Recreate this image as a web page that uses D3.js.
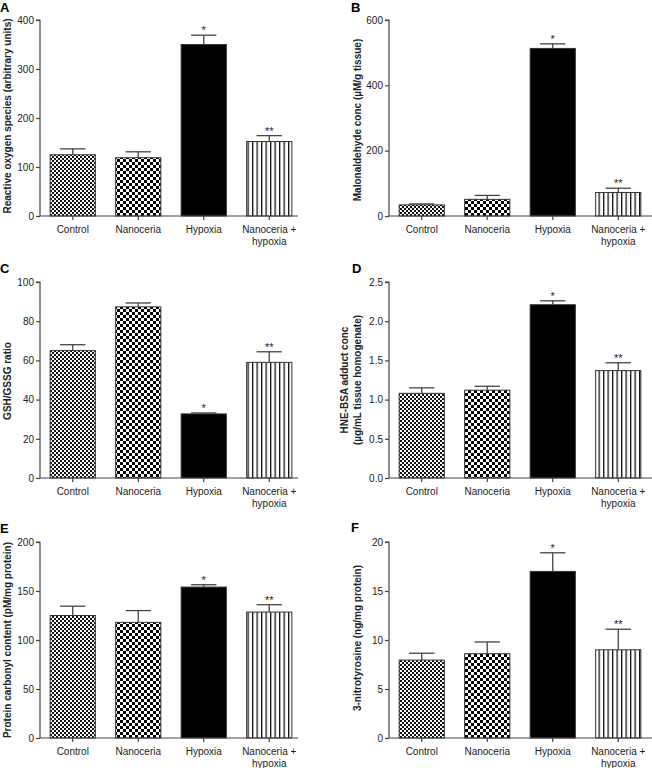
<!DOCTYPE html>
<html>
<head>
<meta charset="utf-8">
<script src="https://cdn.jsdelivr.net/npm/d3@7/dist/d3.min.js"></script>
<style>
  html, body { margin: 0; padding: 0; background: #fff; }
  svg { display: block; font-family: Arial, "Liberation Sans", Helvetica, sans-serif; }
</style>
</head>
<body>
<svg id="chart" width="652" height="768"></svg>
<script>
// ---------- data ----------
const categories = ["Control", "Nanoceria", "Hypoxia", "Nanoceria + hypoxia"];
const significance = ["", "", "*", "**"];

const rosMean = [125, 119, 350, 152];
const rosSem  = [12, 12, 19, 12];
const rosTicks = [0, 100, 200, 300, 400];

const mdaMean = [34, 51, 513, 72];
const mdaSem  = [3, 12, 14, 13];
const mdaTicks = [0, 200, 400, 600];

const gshMean = [65, 87.3, 32.7, 59];
const gshSem  = [3, 2, 0.5, 5.4];
const gshTicks = [0, 20, 40, 60, 80, 100];

const hneMean = [1.08, 1.12, 2.21, 1.37];
const hneSem  = [0.07, 0.05, 0.05, 0.10];
const hneTicks = [0, 0.5, 1.0, 1.5, 2.0, 2.5];

const pccMean = [125, 118, 154, 128.5];
const pccSem  = [9.5, 12, 2.4, 7.5];
const pccTicks = [0, 50, 100, 150, 200];

const ntyMean = [7.95, 8.6, 17.0, 9.0];
const ntySem  = [0.7, 1.2, 1.9, 2.1];
const ntyTicks = [0, 5, 10, 15, 20];

const panelLetters = ["A", "B", "C", "D", "E", "F"];
const yTitles = [
  ["Reactive oxygen species (arbitrary units)"],
  ["Malonaldehyde conc (\u00b5M/g tissue)"],
  ["GSH/GSSG ratio"],
  ["HNE-BSA adduct conc", "(\u00b5g/mL tissue homogenate)"],
  ["Protein carbonyl content (pM/mg protein)"],
  ["3-nitrotyrosine (ng/mg protein)"]
];

// ---------- layout ----------
const panels = [
  {means: rosMean, sems: rosSem, ticks: rosTicks, fmt: d3.format("d"),   col: 0, row: 0, titleCy: 116},
  {means: mdaMean, sems: mdaSem, ticks: mdaTicks, fmt: d3.format("d"),   col: 1, row: 0, titleCy: 120},
  {means: gshMean, sems: gshSem, ticks: gshTicks, fmt: d3.format("d"),   col: 0, row: 1, titleCy: 381},
  {means: hneMean, sems: hneSem, ticks: hneTicks, fmt: d3.format(".1f"), col: 1, row: 1, titleCy: 380},
  {means: pccMean, sems: pccSem, ticks: pccTicks, fmt: d3.format("d"),   col: 0, row: 2, titleCy: 640},
  {means: ntyMean, sems: ntySem, ticks: ntyTicks, fmt: d3.format("d"),   col: 1, row: 2, titleCy: 638}
];
const colX = [40, 389];
const rowTop = [20, 282, 542];
const plotH = 196;
const bandW = 262;
const letterPos = [[0, 12], [351, 12], [0, 273], [352, 273], [0, 533], [351, 532]];

const svg = d3.select("#chart");
const defs = svg.append("defs");

// fine checker (Control)
const p1 = defs.append("pattern").attr("id", "fineCheck").attr("patternUnits", "userSpaceOnUse")
  .attr("width", 4).attr("height", 4);
p1.append("rect").attr("width", 4).attr("height", 4).attr("fill", "#fff");
p1.append("rect").attr("x", 0).attr("y", 0).attr("width", 2).attr("height", 2).attr("fill", "#111");
p1.append("rect").attr("x", 2).attr("y", 2).attr("width", 2).attr("height", 2).attr("fill", "#111");

// coarse checker (Nanoceria)
const p2 = defs.append("pattern").attr("id", "coarseCheck").attr("patternUnits", "userSpaceOnUse")
  .attr("width", 6).attr("height", 6);
p2.append("rect").attr("width", 6).attr("height", 6).attr("fill", "#fff");
p2.append("rect").attr("x", 0).attr("y", 0).attr("width", 3).attr("height", 3).attr("fill", "#000");
p2.append("rect").attr("x", 3).attr("y", 3).attr("width", 3).attr("height", 3).attr("fill", "#000");

// vertical stripes (Nanoceria + hypoxia)
const p3 = defs.append("pattern").attr("id", "vStripe").attr("patternUnits", "userSpaceOnUse")
  .attr("width", 4.5).attr("height", 10);
p3.append("rect").attr("width", 4.5).attr("height", 10).attr("fill", "#fff");
p3.append("rect").attr("x", 0).attr("y", 0).attr("width", 1.3).attr("height", 10).attr("fill", "#111");

const fills = ["url(#fineCheck)", "url(#coarseCheck)", "#000", "url(#vStripe)"];
const axisColor = "#444";
const textColor = "#222";

panels.forEach((p, i) => {
  const x0 = colX[p.col];
  const top = rowTop[p.row];
  const bottom = top + plotH;
  const ymax = p.ticks[p.ticks.length - 1];

  const x = d3.scaleBand().domain(categories).range([x0, x0 + bandW])
    .paddingInner(0.31).paddingOuter(0.155);
  const y = d3.scaleLinear().domain([0, ymax]).range([bottom, top]);

  const g = svg.append("g");

  // bars
  g.selectAll("rect.bar").data(categories).enter().append("rect")
    .attr("class", "bar")
    .attr("x", d => x(d))
    .attr("y", (d, j) => y(p.means[j]))
    .attr("width", x.bandwidth())
    .attr("height", (d, j) => y(0) - y(p.means[j]))
    .attr("fill", (d, j) => fills[j])
    .attr("stroke", "#333").attr("stroke-width", 1);

  // error bars
  const capW = x.bandwidth() * 0.56;
  categories.forEach((c, j) => {
    const cx = x(c) + x.bandwidth() / 2;
    const yt = y(p.means[j] + p.sems[j]);
    g.append("line").attr("x1", cx).attr("x2", cx)
      .attr("y1", y(p.means[j])).attr("y2", yt)
      .attr("stroke", axisColor).attr("stroke-width", 1.3);
    g.append("line").attr("x1", cx - capW / 2).attr("x2", cx + capW / 2)
      .attr("y1", yt).attr("y2", yt)
      .attr("stroke", axisColor).attr("stroke-width", 1.3);
    if (significance[j]) {
      g.append("text").attr("x", cx).attr("y", yt - 1)
        .attr("text-anchor", "middle").attr("font-size", 11).attr("fill", textColor)
        .text(significance[j]);
    }
  });

  // y axis
  const yAxis = d3.axisLeft(y).tickValues(p.ticks).tickFormat(p.fmt).tickSize(4).tickPadding(2);
  const ya = g.append("g").attr("transform", `translate(${x0},0)`).call(yAxis);
  ya.select(".domain").attr("stroke", axisColor).attr("stroke-width", 1.2).attr("d", `M-4,${top}H0V${bottom}`);
  ya.selectAll(".tick line").attr("stroke", axisColor).attr("stroke-width", 1.2);
  ya.selectAll(".tick text").attr("font-size", 10).attr("fill", textColor)
    .attr("font-family", "Arial, 'Liberation Sans', sans-serif");

  // x axis
  const xAxis = d3.axisBottom(x).tickSize(4).tickFormat("");
  const xa = g.append("g").attr("transform", `translate(0,${bottom})`).call(xAxis);
  xa.select(".domain").attr("stroke", axisColor).attr("stroke-width", 1.2)
    .attr("d", `M${x0},0H${x0 + (p.col === 0 ? 258 : 263)}`);
  xa.selectAll(".tick line").attr("stroke", axisColor).attr("stroke-width", 1.2);

  // category labels
  categories.forEach((c, j) => {
    const cx = x(c) + x.bandwidth() / 2;
    const lines = c === "Nanoceria + hypoxia" ? ["Nanoceria +", "hypoxia"] : [c];
    lines.forEach((ln, k) => {
      g.append("text").attr("x", cx).attr("y", bottom + 17 + k * 12)
        .attr("text-anchor", "middle").attr("font-size", 10).attr("fill", textColor)
        .text(ln);
    });
  });

  // y title
  const t = yTitles[i];
  const baseX = p.col === 0 ? 11 : 361;
  t.forEach((ln, k) => {
    const bx = baseX - (t.length - 1 - k) * 13;
    g.append("text")
      .attr("transform", `translate(${bx},${p.titleCy}) rotate(-90)`)
      .attr("text-anchor", "middle").attr("font-size", 10).attr("font-weight", "bold")
      .attr("fill", textColor).text(ln);
  });

  // panel letter
  svg.append("text").attr("x", letterPos[i][0]).attr("y", letterPos[i][1])
    .attr("font-size", 13).attr("font-weight", "bold").attr("fill", "#000")
    .text(panelLetters[i]);
});
</script>
</body>
</html>
